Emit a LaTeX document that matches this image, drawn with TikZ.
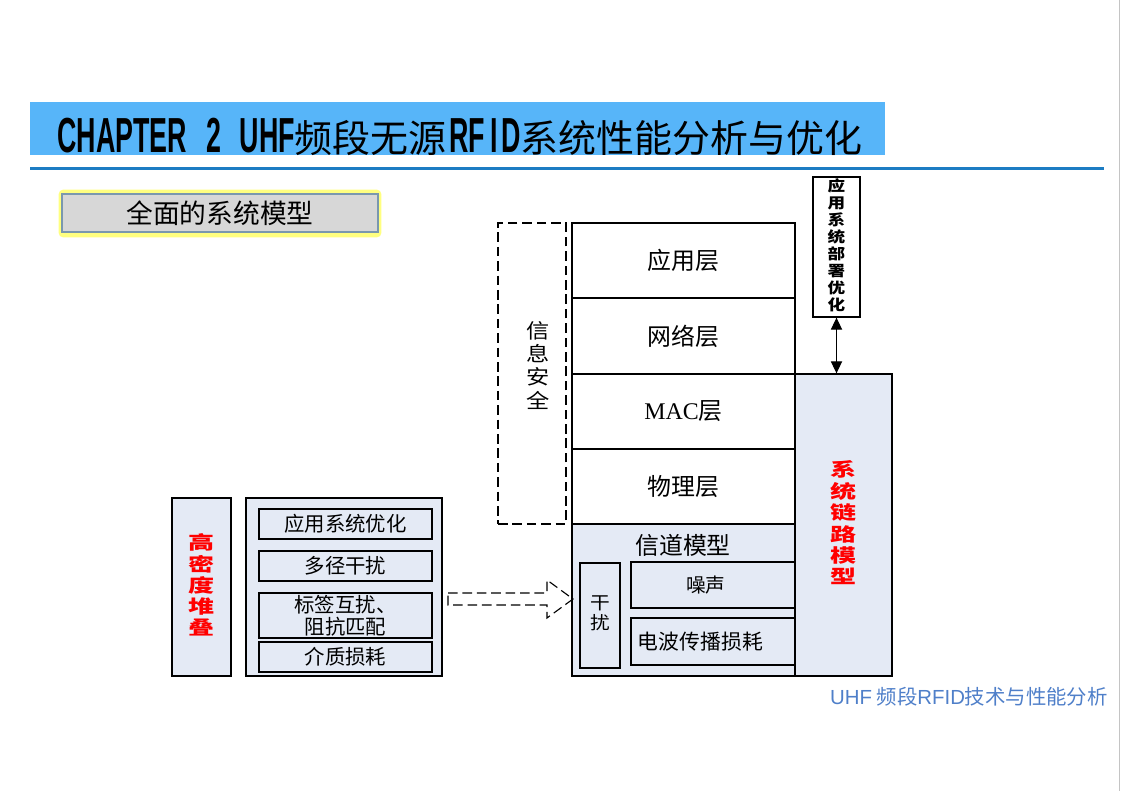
\documentclass[tikz,border=0pt]{standalone}
\usepackage{fontspec}
\usepackage{graphicx}
\setmainfont{Liberation Serif}
\newfontfamily\cjk{Noto Sans CJK SC}
\newfontfamily\ttlatin[FakeStretch=0.545]{Liberation Sans}
\newfontfamily\ftlatin{Liberation Sans}
\usetikzlibrary{calc,arrows.meta}

\definecolor{rfTitle}{HTML}{57B5F9}
\definecolor{rfRule}{HTML}{1C7CC3}
\definecolor{rfFill}{HTML}{E4EAF5}
\definecolor{rfGray}{HTML}{D7D7D7}
\definecolor{rfEdge}{HTML}{7A98AE}
\definecolor{rfGlow}{HTML}{FFFF80}
\definecolor{rfFoot}{HTML}{4F7FC9}
\definecolor{rfFrame}{HTML}{C4C4C4}

% vertical text, squashed like the slide
\newcommand\vstack[2]{\scalebox{1}[#1]{\begin{tabular}{@{}c@{}}#2\end{tabular}}}

\begin{document}
\begin{tikzpicture}[
  x=0.025cm, y=-0.025cm, font=\cjk,
  rf box/.style={draw=black,line width=.9pt,inner sep=0pt,align=center},
  rf layer/.style={rf box,fill=white,minimum width=5.575cm,minimum height=1.88cm,
    font=\cjk\fontsize{17}{20}\selectfont},
  rf opt/.style={rf box,fill=rfFill,minimum width=4.325cm,minimum height=.75cm,
    font=\cjk\fontsize{14.5}{15.6}\selectfont},
  rf red/.style={text=red,font=\cjk\bfseries\fontsize{18.5}{18.5}\selectfont},
  rf dash/.style={draw=black,line width=.8pt,dash pattern=on 2.4mm off 1.2mm}
]
\useasboundingbox (0,0) rectangle (1121,791);
\draw[rfFrame,line width=1.4pt] (1119.5,0) -- (1119.5,791);

% Title bar and rule.
\fill[rfTitle] (30,102) rectangle (885,155);
\node[anchor=base west,inner sep=0pt] (title) at (57,152)
  {{\ttlatin\bfseries\fontsize{35}{35}\selectfont CHAPTER\hspace{14pt}2\hspace{13pt}UHF}%
   {\fontsize{27}{27}\selectfont 频段无源}\hspace{2pt}%
   {\ttlatin\bfseries\fontsize{35}{35}\selectfont RF\hspace{4pt}I\hspace{2pt}D}%
   {\fontsize{27}{27}\selectfont 系统性能分析与优化}};
\draw[rfRule,line width=2.1pt] (30,168.5) -- (1104,168.5);

% Section label with its glow.
\draw[rfGlow,line width=3.5pt,rounded corners=2pt] (61,192) rectangle (379,235);
\node[draw=rfEdge,fill=rfGray,line width=1.2pt,minimum width=7.9cm,minimum height=.95cm,
  inner sep=0pt,font=\cjk\fontsize{19}{22}\selectfont] (topic) at (220,213)
  {全面的系统模型\hspace{18pt}};

% Protocol stack.
\foreach \name/\yc/\lab in {appLayer/260.5/{应用层},netLayer/336/{网络层},
    macLayer/411.5/{{\rmfamily MAC}层},phyLayer/486.5/{物理层}}
  \node[rf layer] (\name) at (683.5,\yc) {\lab};
\node[rf box,fill=rfFill,minimum width=5.575cm,minimum height=3.8cm] (chanBlock)
  at (683.5,600) {};
\node[font=\cjk\fontsize{17}{20}\selectfont] (chanLabel) at (683,545) {信道模型};
\node[rf box,fill=rfFill,minimum width=1cm,minimum height=2.625cm,
  font=\cjk\fontsize{14}{14}\selectfont] (interf) at (600,615.5)
  {\vstack{.91}{干\\扰}};
\node[rf box,fill=rfFill,minimum width=4.1cm,minimum height=1.15cm,
  font=\cjk\fontsize{14}{18}\selectfont] (noise) at (713,585) {噪声\hspace{10pt}};
\node[rf box,fill=rfFill,minimum width=4.1cm,minimum height=1.175cm,text width=3.75cm,
  align=left,font=\cjk\fontsize{14.8}{18}\selectfont] (propLoss) at (713,641.5)
  {电波传播损耗};

% Information security, dashed.
\node[rf dash,minimum width=1.7cm,minimum height=7.525cm,inner sep=0pt] (secBox)
  at (532,373.5) {};
\node[font=\cjk\fontsize{16.5}{16.5}\selectfont] (secText) at (538,368)
  {\vstack{.87}{信\\息\\安\\全}};

% System link model and deployment.
\node[rf box,fill=rfFill,minimum width=2.425cm,minimum height=7.55cm,rf red] (linkModel)
  at (843.5,525) {\vstack{.71}{系\\统\\链\\路\\模\\型}};
\node[rf box,fill=white,minimum width=1.175cm,minimum height=3.5cm,
  font=\cjk\bfseries\fontsize{12.5}{12.5}\selectfont] (deployOpt) at (836.5,247)
  {\vstack{.84}{应\\用\\系\\统\\部\\署\\优\\化}};
\draw[line width=.8pt,{Triangle[length=3mm,width=2.8mm]}-{Triangle[length=3mm,width=2.8mm]}]
  (deployOpt.south) -- (deployOpt.south |- linkModel.north);

% High-density stacking.
\node[rf box,fill=rfFill,minimum width=1.475cm,minimum height=4.45cm,rf red] (hdStack)
  at (201.5,587) {\vstack{.71}{高\\密\\度\\堆\\叠}};
\node[rf box,fill=rfFill,line width=1.7pt,minimum width=4.9cm,minimum height=4.45cm]
  (hdBox) at (344,587) {};
\foreach \name/\yc/\lab in {optA/524/{应用系统优化},optB/566/{多径干扰},optD/657/{介质损耗}}
  \node[rf opt] (\name) at (345.5,\yc) {\lab};
\node[rf opt,minimum height=1.125cm] (optC) at (345.5,615.5) {标签互扰、\\阻抗匹配};

% Hollow dashed arrow into the channel model.
\coordinate (arrTail) at (448,599);
\coordinate (arrTip) at (573,599);
\draw[rf dash] ($(arrTail)+(0,-6)$) -- ($(arrTip)+(-26,-6)$) -- ($(arrTip)+(-26,-19)$)
  -- (arrTip) -- ($(arrTip)+(-26,19)$) -- ($(arrTip)+(-26,6)$) -- ($(arrTail)+(0,6)$) -- cycle;

% Footer.
\node[anchor=east,inner sep=0pt,text=rfFoot,font=\cjk\fontsize{14.5}{16}\selectfont]
  (footer) at (1108,697) {{\ftlatin UHF} 频段{\ftlatin RFID}技术与性能分析};
\end{tikzpicture}
\end{document}
